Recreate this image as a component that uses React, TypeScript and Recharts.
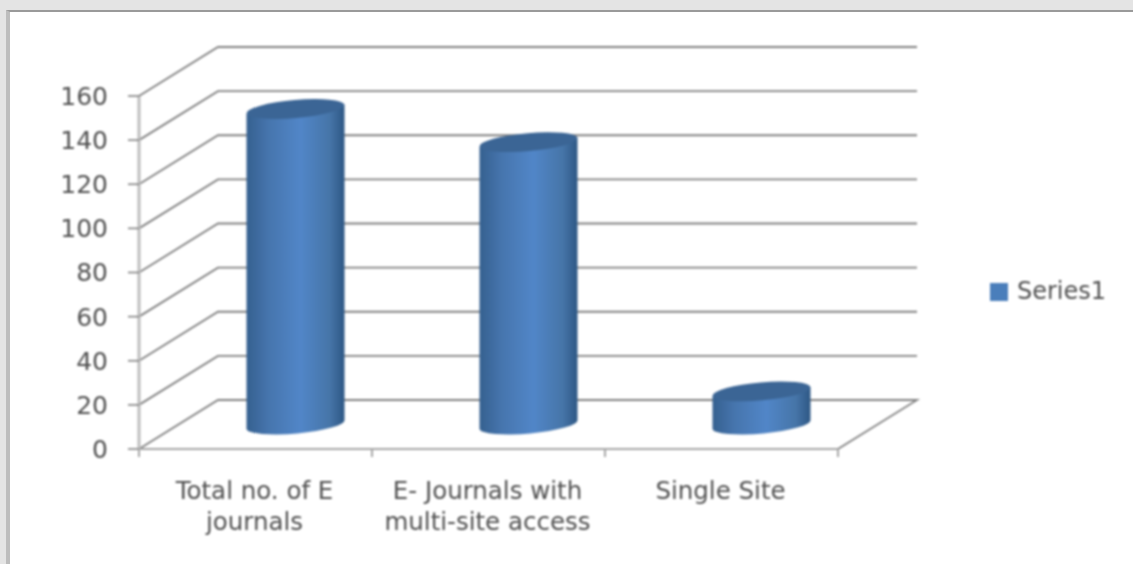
import { Bar, BarChart, CartesianGrid, Legend, XAxis, YAxis } from "recharts";

const categories = ["Total no. of E journals", "E- Journals with multi-site access", "Single Site"];
const seriesValues = [143, 128, 15];
const yTicks = [0, 20, 40, 60, 80, 100, 120, 140, 160];
const xLabelLines = [
  ["Total no. of E", "journals"],
  ["E- Journals with", "multi-site access"],
  ["Single Site"],
];

const chartData = categories.map((name, i) => ({ name, Series1: seriesValues[i] }));

const WIDTH = 1133;
const HEIGHT = 564;
const LEFT = 139;
const RIGHT = 838;
const TOP = 96;
const BOTTOM = 449;
const DEPTH_X = 79;
const DEPTH_Y = 49;
const LEGEND_WIDTH = 140;
const BAND = (RIGHT - LEFT) / categories.length;

const FONT = "'DejaVu Sans', sans-serif";
const TEXT = "#505050";
const LINE = "#808080";

// gridlines run up the side wall, then across the back wall
function WallLine({ x1, y1, x2 }: any) {
  const isFloor = Math.abs(y1 - BOTTOM) < 1;
  const points = [
    `${x1},${y1}`,
    `${x1 + DEPTH_X},${y1 - DEPTH_Y}`,
    `${x2 + DEPTH_X},${y1 - DEPTH_Y}`,
  ];
  if (isFloor) points.push(`${x2},${y1}`);
  return <polyline points={points.join(" ")} fill="none" stroke={LINE} strokeWidth={1.8} />;
}

function Cylinder({ x, y, width, height }: any) {
  const rx = width / 2;
  const ry = 9;
  const tilt = 4.5;
  const left = x + DEPTH_X / 2;
  const right = left + width;
  const top = y - DEPTH_Y / 2;
  const base = top + height;
  const body = `M${left},${top + tilt} L${left},${base + tilt} A${rx},${ry} -5 0 0 ${right},${base - tilt} L${right},${top - tilt} Z`;
  return (
    <g>
      <path d={body} fill="url(#cylinderBody)" />
      <ellipse cx={left + rx} cy={top} rx={rx} ry={ry} fill="#3b6595" transform={`rotate(-5 ${left + rx} ${top})`} />
    </g>
  );
}

function CategoryTick({ x, index }: any) {
  const lines = xLabelLines[index] ?? [];
  const start = x - BAND / 2;
  return (
    <g>
      <line x1={start} y1={BOTTOM} x2={start} y2={BOTTOM + 8} stroke="#a6a6a6" strokeWidth={2} />
      {index === categories.length - 1 && (
        <line x1={start + BAND} y1={BOTTOM} x2={start + BAND} y2={BOTTOM + 8} stroke="#a6a6a6" strokeWidth={2} />
      )}
      <text x={x - 1} y={BOTTOM + 50} textAnchor="middle" fontFamily={FONT} fontSize={24.5} fill={TEXT}>
        {lines.map((line, i) => (
          <tspan key={line} x={x - 1} dy={i === 0 ? 0 : 31}>
            {line}
          </tspan>
        ))}
      </text>
    </g>
  );
}

export default function App() {
  return (
    <div style={{ position: "absolute", left: 0, top: 0, width: WIDTH, height: HEIGHT, background: "#e4e4e4", overflow: "hidden" }}>
      <div
        style={{
          position: "absolute",
          left: 6,
          top: 10,
          right: 0,
          bottom: 0,
          background: "#fff",
          borderTop: "2px solid #9a9a9a",
          borderLeft: "4px solid #bdbdbd",
        }}
      />
      <div style={{ position: "absolute", left: 0, top: 0, filter: "blur(0.8px)" }}>
        <BarChart
          width={WIDTH}
          height={HEIGHT}
          data={chartData}
          margin={{ top: TOP, right: WIDTH - RIGHT - LEGEND_WIDTH, bottom: 0, left: 0 }}
        >
          <defs>
            <linearGradient id="cylinderBody" x1="0" y1="0" x2="1" y2="0">
              <stop offset="0%" stopColor="#35608f" />
              <stop offset="22%" stopColor="#4675ad" />
              <stop offset="55%" stopColor="#5186c8" />
              <stop offset="85%" stopColor="#4675a8" />
              <stop offset="100%" stopColor="#2d5784" />
            </linearGradient>
          </defs>
          <CartesianGrid vertical={false} horizontal={(props: any) => <WallLine key={props.key} {...props} />} />
          <XAxis
            dataKey="name"
            interval={0}
            axisLine={{ stroke: "#a6a6a6", strokeWidth: 2 }}
            tickLine={false}
            tick={(props: any) => <CategoryTick {...props} />}
            height={HEIGHT - BOTTOM}
          />
          <YAxis
            domain={[0, 160]}
            ticks={yTicks}
            interval={0}
            width={LEFT}
            axisLine={{ stroke: "#bdbdbd", strokeWidth: 3 }}
            tickLine={{ stroke: "#808080", strokeWidth: 1.6 }}
            tickSize={11}
            tickMargin={20}
            tick={{ fontFamily: FONT, fontSize: 25, fill: TEXT }}
          />
          <Legend
            layout="vertical"
            align="right"
            verticalAlign="middle"
            iconType="square"
            iconSize={18}
            wrapperStyle={{ position: "absolute", left: 990, top: 277, width: LEGEND_WIDTH, fontFamily: FONT, fontSize: 24 }}
            formatter={(value: string) => <span style={{ color: TEXT, marginLeft: 5 }}>{value}</span>}
          />
          <Bar dataKey="Series1" fill="#4a7ebb" barSize={98} shape={(props: any) => <Cylinder {...props} />} isAnimationActive={false} />
        </BarChart>
      </div>
    </div>
  );
}
